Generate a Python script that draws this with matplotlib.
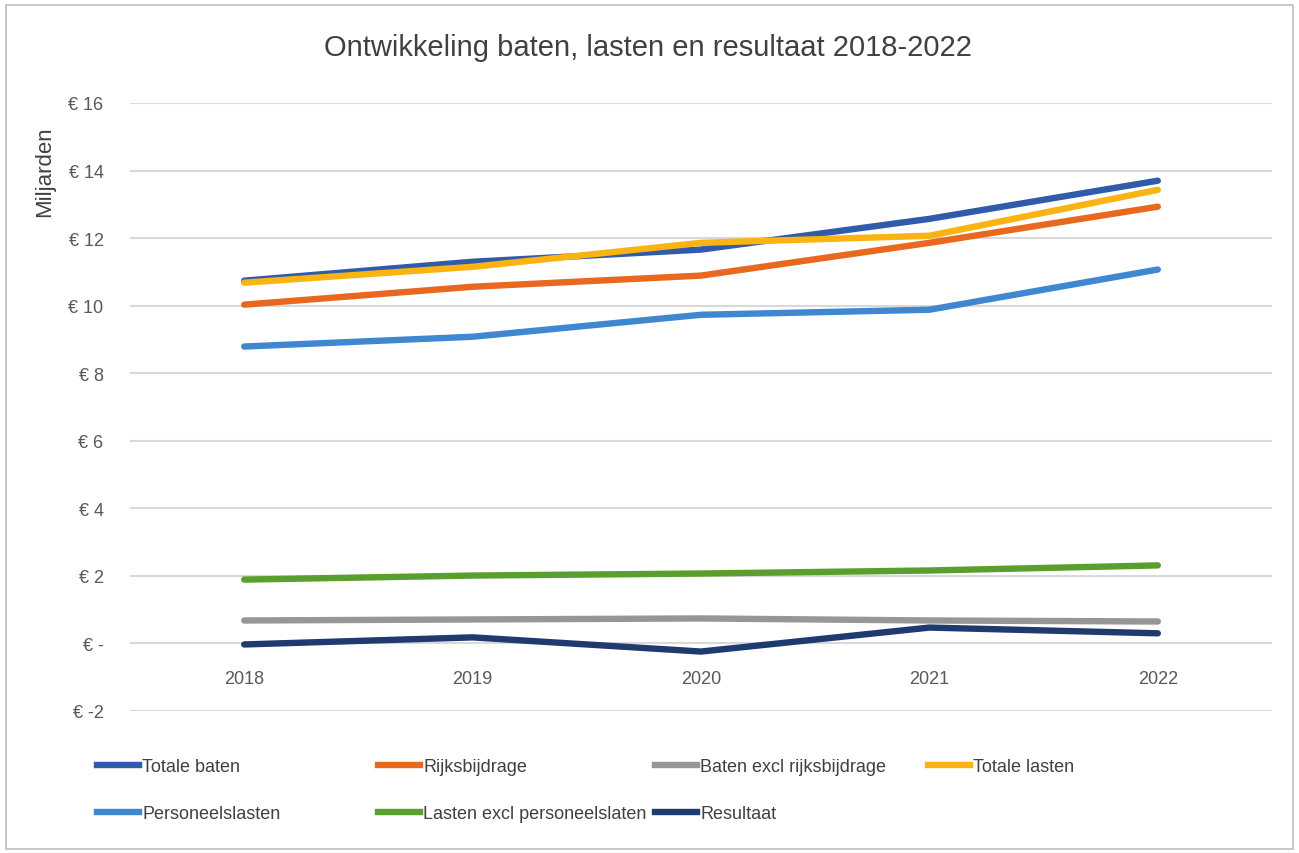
import matplotlib
matplotlib.use('Agg')
import matplotlib.pyplot as plt
from matplotlib.lines import Line2D
from matplotlib.patches import Rectangle

plt.rcParams['font.family'] = ['Liberation Sans', 'DejaVu Sans']

years = ['2018', '2019', '2020', '2021', '2022']

totale_baten = [10.74, 11.30, 11.66, 12.57, 13.70]
rijksbijdrage = [10.03, 10.56, 10.89, 11.86, 12.93]
baten_excl = [0.68, 0.71, 0.74, 0.68, 0.65]
totale_lasten = [10.68, 11.15, 11.86, 12.07, 13.43]
personeelslasten = [8.79, 9.08, 9.73, 9.88, 11.07]
lasten_excl = [1.89, 2.01, 2.07, 2.16, 2.31]
resultaat = [-0.03, 0.18, -0.24, 0.47, 0.30]

labels = ['Totale baten', 'Rijksbijdrage', 'Baten excl rijksbijdrage', 'Totale lasten',
          'Personeelslasten', 'Lasten excl personeelslaten', 'Resultaat']
series = [totale_baten, rijksbijdrage, baten_excl, totale_lasten,
          personeelslasten, lasten_excl, resultaat]
colors = ['#2F5BAA', '#E8681F', '#969696', '#F9B312', '#3F87D0', '#5A9F2E', '#1F3A6E']

yticks = [-2, 0, 2, 4, 6, 8, 10, 12, 14, 16]
ytick_labels = ['€ -2', '€ -', '€ 2', '€ 4', '€ 6', '€ 8', '€ 10', '€ 12', '€ 14', '€ 16']

W, H = 1299, 854
fig = plt.figure(figsize=(W / 100, H / 100), dpi=100)
ax = fig.add_axes([130 / W, 1 - 712 / H, (1272 - 130) / W, (712 - 104) / H])

x = list(range(len(years)))
handles = []
for vals, lab, col in zip(series, labels, colors):
    line, = ax.plot(x, vals, color=col, linewidth=4.6, solid_capstyle='round', label=lab, zorder=3)
    handles.append(line)

ax.set_xlim(-0.5, len(years) - 0.5)
ax.set_ylim(-2, 16)
ax.spines['bottom'].set_position(('data', 0))
ax.set_yticks(yticks)
ax.set_yticklabels(ytick_labels)
ax.set_xticks(x)
ax.set_xticklabels(years)
for s in ax.spines.values():
    s.set_visible(False)
ax.tick_params(axis='both', length=0, labelsize=13, labelcolor='#595959')
ax.tick_params(axis='y', pad=19)
ax.tick_params(axis='x', pad=19)
ax.grid(True, axis='y', color='#D9D9D9', linewidth=1.5, zorder=0)
ax.set_axisbelow(True)

fig.text(648 / W, 1 - 48 / H, 'Ontwikkeling baten, lasten en resultaat 2018-2022',
         ha='center', va='center', fontsize=21, color='#404040')
fig.text(45 / W, 1 - 172 / H, 'Miljarden', rotation=90, ha='center', va='center',
         fontsize=16, color='#404040')

# legend, four columns in two rows
col_x = [97, 378, 655, 928]
row_y = [768, 815]
for i, (h, lab) in enumerate(zip(handles, labels)):
    c = i % 4
    r = i // 4
    fig.legend([Line2D([0], [0], color=h.get_color(), linewidth=4.6)], [lab],
               loc='center left', bbox_to_anchor=(col_x[c] / W, 1 - row_y[r] / H),
               frameon=False, fontsize=13, handlelength=2.3, handletextpad=0.2,
               borderaxespad=0, borderpad=0, labelcolor='#404040')

fig.patches.append(Rectangle((6 / W, 4 / H), (W - 12) / W, (H - 10) / H, transform=fig.transFigure,
                             fill=False, edgecolor='#BFBFBF', linewidth=1.2))

plt.savefig('out.png', dpi=100)
